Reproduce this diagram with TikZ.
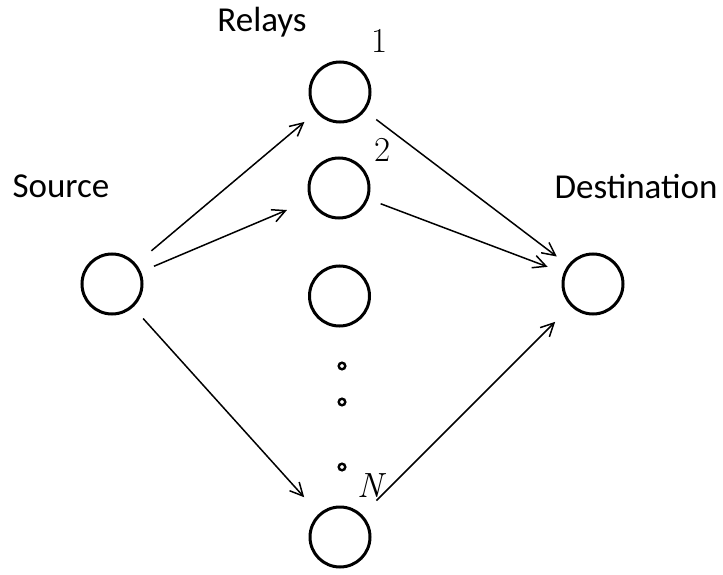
\documentclass[tikz,border=0pt]{standalone}
\usepackage{fontspec}
\setmainfont{Latin Modern Roman}
\newfontfamily\labelfont{Carlito}
\usetikzlibrary{arrows.meta}
\tikzset{
  relaynode/.style={circle, draw, line width=3pt, minimum size=60pt, inner sep=0pt},
  dotnode/.style={circle, draw, line width=2.4pt, minimum size=6.6pt, inner sep=0pt},
  lbl/.style={font=\labelfont\fontsize{35}{42}\selectfont, anchor=base, inner sep=0pt},
  numlbl/.style={font=\fontsize{35}{42}\selectfont, anchor=base, inner sep=0pt},
  link/.style={line width=1.5pt, -{Straight Barb[length=13pt, width=13pt, line width=1.5pt]}}
}
\begin{document}
\begin{tikzpicture}[x=1pt,y=-1pt]
\useasboundingbox (0,0) rectangle (723,575);
% nodes
\node[relaynode] (S) at (112,284) {};
\node[relaynode] (R1) at (340,92) {};
\node[relaynode] (R2) at (339,188) {};
\node[relaynode] (R3) at (339.5,296) {};
\node[relaynode] (RN) at (340,537) {};
\node[relaynode] (D) at (593,284) {};
% dots
\node[dotnode] (d1) at (342,366) {};
\node[dotnode] (d2) at (342,402) {};
\node[dotnode] (d3) at (342,467) {};
% labels
\node[lbl] (lrelays) at (262,32) {Relays};
\node[lbl] (lsource) at (61,197) {Source};
\node[lbl] (ldest) at (636,198) {Destination};
\node[numlbl] (l1) at (380,53) {1};
\node[numlbl] (l2) at (383,162) {2};
\node[numlbl] (lN) at (370,497) {\itshape N};
% connectors
\draw[link, shorten <=20pt, shorten >=15pt] (S) -- (R1);
\draw[link, shorten <=14pt, shorten >=25pt] (S) -- (R2);
\draw[link, shorten <=15pt, shorten >=22pt] (S) -- (RN);
\draw[link, shorten <=14pt, shorten >=14pt] (R1) -- (D);
\draw[link, shorten <=13pt, shorten >=17pt] (R2) -- (D);
\draw[link, shorten <=20pt, shorten >=22pt] (RN) -- (D);
\end{tikzpicture}
\end{document}
